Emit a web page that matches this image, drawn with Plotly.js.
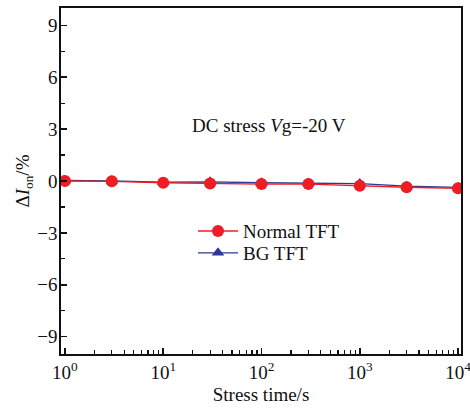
<!DOCTYPE html>
<html><head><meta charset="utf-8">
<script src="https://cdn.plot.ly/plotly-3.0.1.min.js"></script>
<style>body{margin:0;background:#fff}#chart{width:470px;height:410px}</style>
</head><body><div id="chart"></div>
<script>
const stressTime = [1, 3, 10, 30, 100, 300, 1000, 3000, 10000];
const normalTFT = [0.0, -0.02, -0.1, -0.15, -0.18, -0.18, -0.28, -0.36, -0.42];
const bgTFT = [0.03, 0.01, -0.07, -0.05, -0.1, -0.12, -0.15, -0.3, -0.37];
const xTickVals = [1, 10, 100, 1000, 10000];
const xTickText = ['10<sup>0</sup>', '10<sup>1</sup>', '10<sup>2</sup>', '10<sup>3</sup>', '10<sup>4</sup>'];
const yTickVals = [-9, -6, -3, 0, 3, 6, 9];

const font = 'Liberation Serif, Times New Roman, serif';
const traces = [
  {x: stressTime, y: bgTFT, name: 'BG TFT', mode: 'lines+markers', legend: 'legend2',
   line: {color: '#2b3a94', width: 1.3}, marker: {symbol: 'triangle-up', size: 11, color: '#2b3a94'}},
  {x: stressTime, y: normalTFT, name: 'Normal TFT', mode: 'lines+markers', legend: 'legend',
   line: {color: '#ee1c25', width: 1.3}, marker: {symbol: 'circle', size: 12, color: '#ee1c25'}}
];
const legendBase = {x: 0.33, xanchor: 'left', yanchor: 'middle', bgcolor: 'rgba(0,0,0,0)',
  font: {family: font, size: 19, color: '#111'}, itemwidth: 40};
const layout = {
  width: 470, height: 410,
  margin: {l: 61, r: 9, t: 8, b: 56},
  paper_bgcolor: '#fff', plot_bgcolor: '#fff',
  font: {family: font, size: 19, color: '#111'},
  showlegend: true,
  legend: Object.assign({}, legendBase, {y: 0.355}),
  legend2: Object.assign({}, legendBase, {y: 0.292}),
  xaxis: {type: 'log', range: [-0.04, 4.03], tickvals: xTickVals, ticktext: xTickText,
          ticklabeloverflow: 'allow',
          ticks: 'inside', ticklen: 6, tickwidth: 1.5, tickcolor: '#111',
          showline: true, linewidth: 1.8, linecolor: '#111', mirror: true,
          showgrid: false, zeroline: false,
          minor: {ticks: 'inside', ticklen: 4, tickwidth: 1.2, tickcolor: '#111', dtick: 'D1', showgrid: false},
          title: {text: 'Stress time/s', font: {family: font, size: 19, color: '#111'}, standoff: 6}},
  yaxis: {range: [-10, 10], tickvals: yTickVals, ticklabelstandoff: -2,
          ticks: 'inside', ticklen: 6, tickwidth: 1.5, tickcolor: '#111',
          showline: true, linewidth: 1.8, linecolor: '#111', mirror: true,
          showgrid: false, zeroline: false,
          minor: {ticks: 'inside', ticklen: 4, tickwidth: 1.2, tickcolor: '#111', dtick: 1.5, showgrid: false},
          title: {text: 'Δ<i>I</i><sub>on</sub>/%', font: {family: font, size: 19, color: '#111'}, standoff: 2}},
  annotations: [{xref: 'paper', yref: 'paper', x: 0.52, y: 0.66, xanchor: 'center', yanchor: 'middle',
    text: 'DC stress <i>V</i>g=-20 V', showarrow: false, font: {family: font, size: 19, color: '#111'}}]
};
Plotly.newPlot('chart', traces, layout, {displayModeBar: false, staticPlot: true});
</script></body></html>
